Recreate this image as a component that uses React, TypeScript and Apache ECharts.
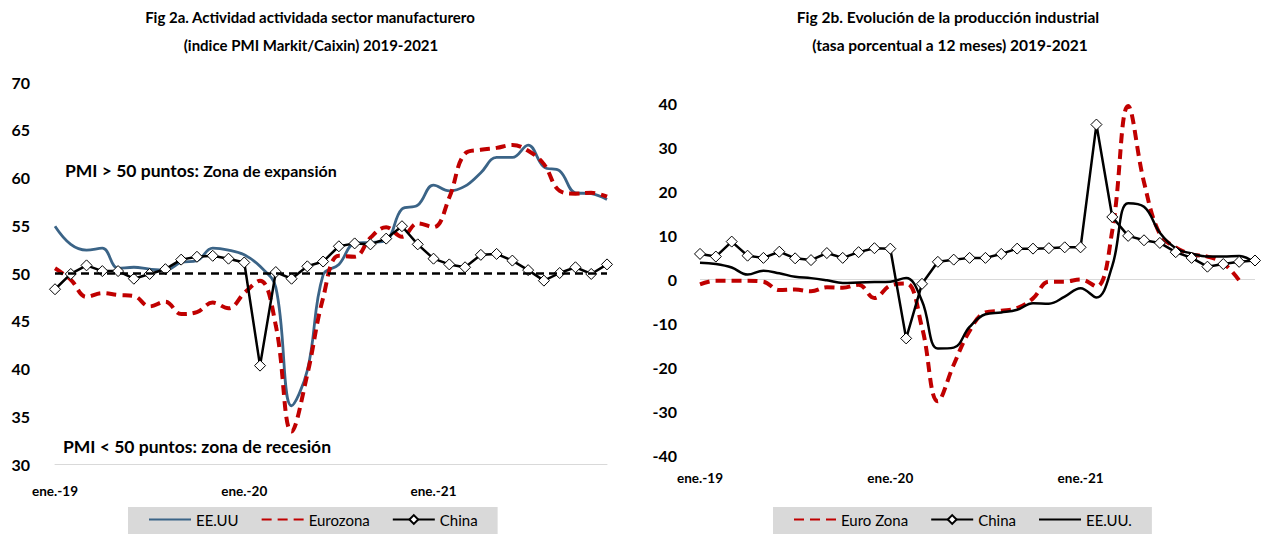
import React, { useEffect, useRef } from "react";
import * as echarts from "echarts";

const months = [
  "ene.-19","feb.-19","mar.-19","abr.-19","may.-19","jun.-19","jul.-19","ago.-19","sep.-19","oct.-19","nov.-19","dic.-19",
  "ene.-20","feb.-20","mar.-20","abr.-20","may.-20","jun.-20","jul.-20","ago.-20","sep.-20","oct.-20","nov.-20","dic.-20",
  "ene.-21","feb.-21","mar.-21","abr.-21","may.-21","jun.-21","jul.-21","ago.-21","sep.-21","oct.-21","nov.-21","dic.-21",
];

// Fig 2a: PMI manufacturero
const pmiUS = [54.9, 53.0, 52.4, 52.6, 50.5, 50.6, 50.4, 50.3, 51.1, 51.3, 52.6, 52.4, 51.9, 50.7, 48.5, 36.1, 39.8, 49.8, 50.9, 53.1, 53.2, 53.4, 56.7, 57.1, 59.2, 58.6, 59.1, 60.5, 62.1, 62.1, 63.4, 61.1, 60.7, 58.4, 58.3, 57.7];
const pmiEZ = [50.5, 49.3, 47.5, 47.9, 47.7, 47.6, 46.5, 47.0, 45.7, 45.9, 46.9, 46.3, 47.9, 49.2, 44.5, 33.4, 39.4, 47.4, 51.8, 51.7, 53.7, 54.8, 53.8, 55.2, 54.8, 57.9, 62.5, 62.9, 63.1, 63.4, 62.8, 61.4, 58.6, 58.3, 58.4, 58.0];
const pmiCN = [48.3, 49.9, 50.8, 50.2, 50.2, 49.4, 49.9, 50.4, 51.4, 51.7, 51.8, 51.5, 51.1, 40.3, 50.1, 49.4, 50.7, 51.2, 52.8, 53.1, 53.0, 53.6, 54.9, 53.0, 51.5, 50.9, 50.6, 51.9, 52.0, 51.3, 50.3, 49.2, 50.0, 50.6, 49.9, 50.9];
const pmiThreshold = 50;

// Fig 2b: producción industrial, tasa a 12 meses
const ipEZ = [-1.2, -0.4, -0.4, -0.4, -0.6, -2.5, -2.4, -2.8, -1.9, -2.0, -1.3, -4.3, -1.5, -1.0, -11.0, -27.8, -19.5, -11.8, -7.6, -7.2, -6.6, -4.4, -0.6, -0.6, -0.1, -1.7, 11.0, 39.3, 22.0, 10.2, 7.2, 5.6, 5.1, 3.6, -0.3, null];
const ipCN = [5.7, 5.1, 8.5, 5.3, 4.8, 6.2, 4.7, 4.3, 5.9, 4.8, 6.1, 7.0, 6.9, -13.5, -1.1, 3.9, 4.4, 4.8, 4.8, 5.7, 6.9, 6.9, 7.0, 7.2, 7.2, 35.1, 14.1, 9.8, 8.8, 8.2, 6.1, 4.8, 2.8, 3.4, 3.9, 4.2];
const ipUS = [3.7, 3.4, 2.6, 1.0, 1.9, 1.3, 0.5, 0.2, -0.3, -0.9, -0.8, -0.7, -0.6, 0.2, -5.0, -15.8, -15.6, -10.9, -8.0, -7.6, -7.0, -5.5, -5.6, -4.0, -2.1, -4.2, 3.0, 17.2, 16.4, 10.5, 7.0, 5.8, 5.1, 5.1, 5.2, 3.6];

const FONT = "Lato, 'Open Sans', sans-serif";
const BLUE = "#3b6487";
const RED = "#c00000";

export default function App() {
  const ref = useRef<HTMLDivElement>(null);
  useEffect(() => {
    document.body.style.margin = "0";
    const chart = echarts.init(ref.current!, null, { renderer: "svg" });
    const xCommon = {
      type: "category",
      data: months,
      boundaryGap: false,
      axisTick: { show: false },
      axisLabel: { interval: 11, color: "#000", fontWeight: "bold", fontSize: 13.5, fontFamily: FONT },
    };
    const yLabel = { color: "#000", fontWeight: "bold", fontSize: 16, fontFamily: FONT };
    const noSym = { opacity: 0 };
    const legendCommon = {
      backgroundColor: "#d9d9d9",
      padding: [5, 20, 8, 20],
      itemWidth: 42, itemHeight: 11, itemGap: 22,
      textStyle: { fontSize: 15, color: "#000", fontFamily: FONT },
    };
    const option: any = {
      animation: false,
      backgroundColor: "#fff",
      textStyle: { fontFamily: FONT },
      grid: [
        { left: 55, width: 552, top: 82, height: 382 },
        { left: 700, width: 555, top: 103, height: 352 },
      ],
      xAxis: [
        { ...xCommon, gridIndex: 0, axisLine: { lineStyle: { color: "#d9d9d9", width: 1 } }, axisLabel: { ...xCommon.axisLabel, margin: 20 } },
        { ...xCommon, gridIndex: 1, axisLine: { show: false, onZero: false }, axisLabel: { ...xCommon.axisLabel, margin: 16 } },
      ],
      yAxis: [
        { type: "value", gridIndex: 0, min: 30, max: 70, interval: 5, splitLine: { show: false }, axisLine: { show: false }, axisTick: { show: false }, axisLabel: { ...yLabel, margin: 25 } },
        { type: "value", gridIndex: 1, min: -40, max: 40, interval: 10, splitLine: { show: false }, axisLine: { show: false }, axisTick: { show: false }, axisLabel: { ...yLabel, margin: 23 } },
      ],
      legend: [
        {
          ...legendCommon,
          data: [{ name: "EE.UU", itemStyle: noSym }, { name: "Eurozona", itemStyle: noSym }, "China"],
          left: 128, top: 507,
        },
        {
          ...legendCommon,
          data: [{ name: "Euro Zona", itemStyle: noSym }, "China", { name: "EE.UU.", itemStyle: noSym }],
          left: 773, top: 507,
        },
      ],
      series: [
        {
          name: "EE.UU", type: "line", xAxisIndex: 0, yAxisIndex: 0, data: pmiUS,
          smooth: 0.4, symbol: "none", lineStyle: { color: BLUE, width: 2.8 }, itemStyle: { color: BLUE },
        },
        {
          name: "Eurozona", type: "line", xAxisIndex: 0, yAxisIndex: 0, data: pmiEZ,
          smooth: 0.4, symbol: "none", lineStyle: { color: RED, width: 4, type: [10, 6] }, itemStyle: { color: RED },
        },
        {
          name: "China", type: "line", xAxisIndex: 0, yAxisIndex: 0, data: pmiCN,
          symbol: "diamond", symbolSize: 11, showAllSymbol: true, lineStyle: { color: "#000", width: 2.5 },
          itemStyle: { color: "#fff", borderColor: "#000", borderWidth: 1 },
          markLine: {
            silent: true, symbol: "none", label: { show: false },
            lineStyle: { color: "#000", width: 2.5, type: [8, 5] },
            data: [{ yAxis: pmiThreshold }],
          },
        },
        {
          name: "Euro Zona", type: "line", xAxisIndex: 1, yAxisIndex: 1, data: ipEZ,
          smooth: 0.4, symbol: "none", lineStyle: { color: RED, width: 4, type: [10, 6] }, itemStyle: { color: RED },
          markLine: {
            silent: true, symbol: "none", label: { show: false }, z: 1,
            lineStyle: { color: "#d9d9d9", width: 1, type: "solid" },
            data: [{ yAxis: 0 }],
          },
        },
        {
          name: "China", type: "line", xAxisIndex: 1, yAxisIndex: 1, data: ipCN,
          symbol: "diamond", symbolSize: 11, showAllSymbol: true, lineStyle: { color: "#000", width: 2.5 },
          itemStyle: { color: "#fff", borderColor: "#000", borderWidth: 1 },
        },
        {
          name: "EE.UU.", type: "line", xAxisIndex: 1, yAxisIndex: 1, data: ipUS,
          smooth: 0.4, symbol: "none", lineStyle: { color: "#000", width: 2.5 }, itemStyle: { color: "#000" },
        },
      ],
      graphic: [
        {
          type: "text", x: 310, y: 17,
          style: { text: "Fig 2a. Actividad actividada sector manufacturero", textAlign: "center", textVerticalAlign: "middle", font: `bold 15px ${FONT}`, fill: "#000" },
        },
        {
          type: "text", x: 311, y: 45,
          style: { text: "(indice PMI Markit/Caixin) 2019-2021", textAlign: "center", textVerticalAlign: "middle", font: `bold 15px ${FONT}`, fill: "#000" },
        },
        {
          type: "text", x: 948, y: 17,
          style: { text: "Fig 2b. Evolución de la producción industrial", textAlign: "center", textVerticalAlign: "middle", font: `bold 15.5px ${FONT}`, fill: "#000" },
        },
        {
          type: "text", x: 950, y: 45,
          style: { text: "(tasa porcentual a 12 meses) 2019-2021", textAlign: "center", textVerticalAlign: "middle", font: `bold 15.5px ${FONT}`, fill: "#000" },
        },
        {
          type: "text", x: 65, y: 170,
          style: {
            text: "{a|PMI > 50 puntos: }{b|Zona de expansión}",
            textVerticalAlign: "middle",
            rich: {
              a: { fontSize: 17.5, fontWeight: "bold", fontFamily: FONT, fill: "#000", color: "#000" },
              b: { fontSize: 16, fontWeight: "bold", fontFamily: FONT, fill: "#000", color: "#000" },
            },
          },
        },
        {
          type: "text", x: 63, y: 446,
          style: { text: "PMI < 50 puntos: zona de recesión", textVerticalAlign: "middle", font: `bold 17.5px ${FONT}`, fill: "#000" },
        },
      ],
    };
    chart.setOption(option);
    return () => chart.dispose();
  }, []);
  return <div ref={ref} style={{ position: "absolute", left: 0, top: 0, width: 1264, height: 534 }} />;
}
